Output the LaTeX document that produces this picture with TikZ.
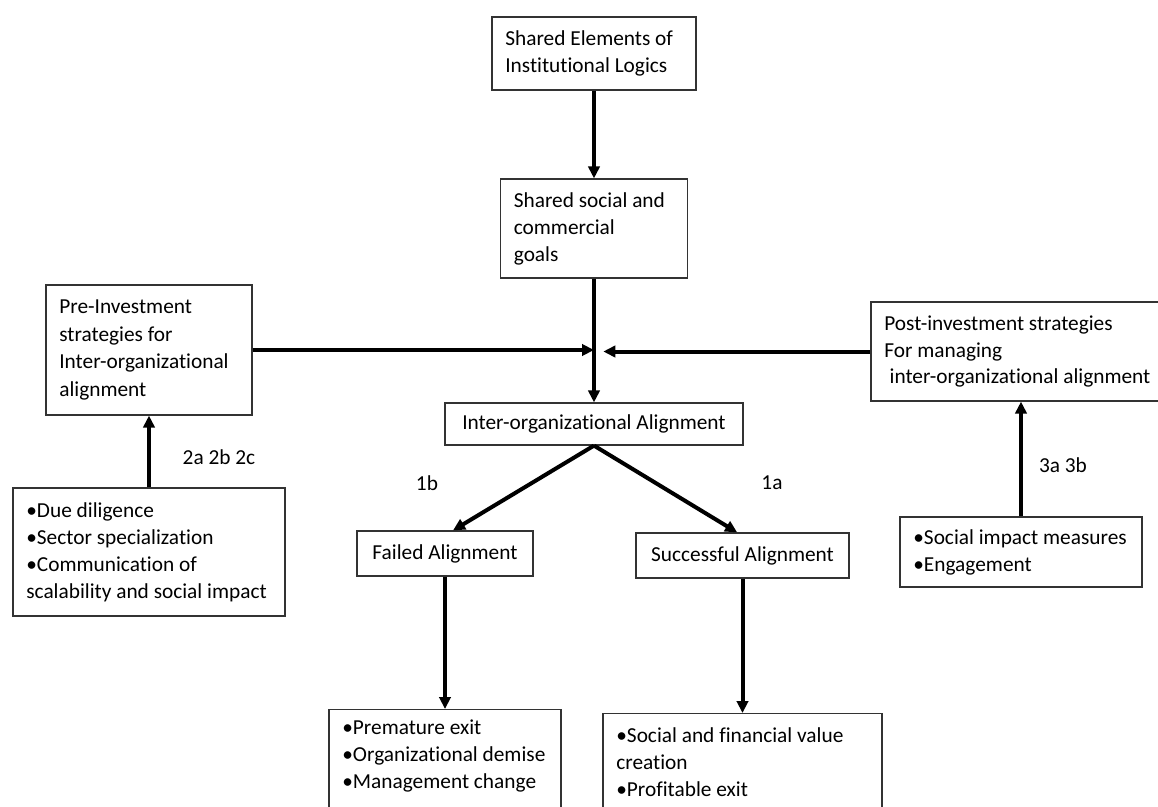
\documentclass[tikz,border=0pt]{standalone}
\usepackage{fontspec}
\setmainfont[Ligatures=NoCommon]{Carlito}
\usetikzlibrary{arrows.meta}
\begin{document}
\begin{tikzpicture}[x=0.75pt,y=-0.75pt,>={Triangle[length=9pt,width=8.5pt]},
		box/.style={draw=black!80,line width=0.9pt,inner xsep=10pt,inner ysep=0pt,align=flush left,font=\fontsize{16}{20.2}\selectfont},
		listbox/.style={box,anchor=north,inner ysep=8pt,text height=11pt,text depth=90pt},
		link/.style={->,line width=3pt},
		tag/.style={font=\fontsize{16}{20.2}\selectfont}]
		\clip (0,0) rectangle (1158,807);
		\fill[white] (0,0) rectangle (1158,807);
		% middle column
		\node[box,text width=133pt,minimum height=54.75pt] (elem) at (594,53.5) {Shared Elements of\\Institutional Logics};
		\node[box,text width=120.25pt,minimum height=74.25pt] (goals) at (594,228.5) {Shared social and\\commercial\\goals};
		\node[box,align=center,minimum width=223.5pt,minimum height=31.5pt] (inter) at (594,424) {Inter-organizational Alignment};
		\node[box,align=center,minimum width=132pt,minimum height=33.75pt] (failed) at (445,553.5) {Failed Alignment};
		\node[box,align=center,minimum width=159.75pt,minimum height=33.75pt] (succ) at (742.5,555.5) {Successful Alignment};
		\node[listbox,text width=154pt] (demise) at (445,709) {•Premature exit\\•Organizational demise\\•Management change};
		\node[listbox,text width=189.25pt,inner ysep=11pt] (value) at (742.5,713) {•Social and financial value\\creation\\•Profitable exit};
		% left side
		\node[box,text width=134.5pt,minimum height=97.5pt,font=\fontsize{16}{20.8}\selectfont] (pre) at (149,350) {Pre-Investment\\strategies for\\Inter-organizational\\alignment};
		\node[box,text width=184pt,minimum height=96pt] (due) at (149,552) {•Due diligence\\•Sector specialization\\•Communication of\\scalability and social impact};
		% right side
		\node[box,text width=205pt,minimum height=74.25pt] (post) at (1021,351.5) {Post-investment strategies\\For managing\\\hspace*{0.25em}inter-organizational alignment};
		\node[box,text width=161.5pt,minimum height=52.5pt] (impact) at (1021,552) {•Social impact measures\\•Engagement};
		% labels
		\node[tag] (lab2) at (219,457) {2a 2b 2c};
		\node[tag] (lab3) at (1063,465) {3a 3b};
		\node[tag] (lab1b) at (427,483) {1b};
		\node[tag] (lab1a) at (772,483) {1a};
		% arrows
		\draw[link] (elem.south) -- (goals.north);
		\draw[link] (goals.south) -- (inter.north);
		\draw[link] (pre.east) -- (pre.east -| goals.south);
		\draw[link,shorten >=7pt] (post.west) -- (post.west -| goals.south);
		\draw[link] (due.north) -- (pre.south);
		\draw[link] (impact.north) -- (post.south);
		\draw[link] (inter.south) -- ([xshift=6pt]failed.north);
		\draw[link] (inter.south) -- ([xshift=-4pt]succ.north);
		\draw[link] (failed.south) -- (demise.north);
		\draw[link] (succ.south) -- (value.north);
	\end{tikzpicture}
\end{document}
